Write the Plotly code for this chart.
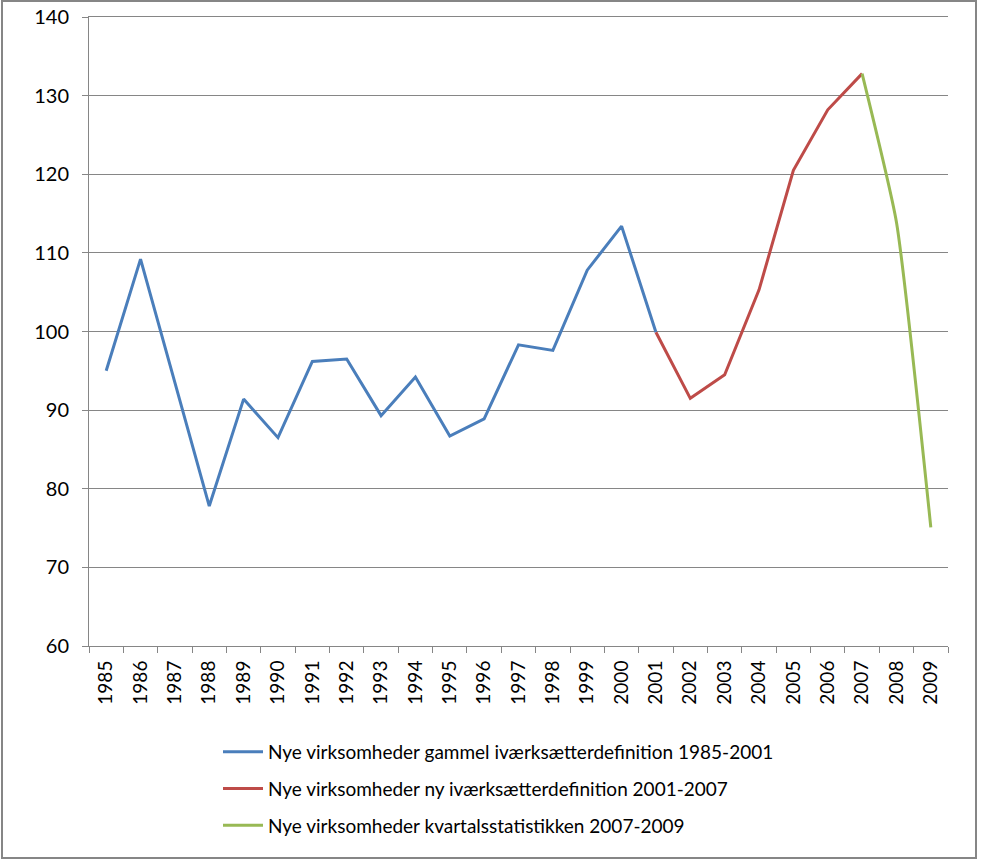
import plotly.graph_objects as go

years = [str(y) for y in range(1985, 2010)]

old_def_years = [str(y) for y in range(1985, 2002)]
old_def_values = [95.0, 109.2, 93.5, 77.8, 91.4, 86.5, 96.2, 96.5, 89.3, 94.2,
                  86.7, 88.9, 98.3, 97.6, 107.8, 113.4, 99.9]

new_def_years = [str(y) for y in range(2001, 2008)]
new_def_values = [99.9, 91.5, 94.5, 105.3, 120.5, 128.2, 132.8]

quarter_years = [str(y) for y in range(2007, 2010)]
quarter_values = [132.8, 113.9, 75.1]

names = [
    "Nye virksomheder gammel iværksætterdefinition 1985-2001",
    "Nye virksomheder ny iværksætterdefinition 2001-2007",
    "Nye virksomheder kvartalsstatistikken 2007-2009",
]
colors = ["#4A7EBB", "#BE4B48", "#98B954"]

y_ticks = [60, 70, 80, 90, 100, 110, 120, 130, 140]

W, H = 1005, 860
L, R, T, B = 89, 948, 17, 646

fig = go.Figure()
fig.add_trace(go.Scatter(x=old_def_years, y=old_def_values, mode="lines", name=names[0],
                         line=dict(color=colors[0], width=3), legendgroup="a"))
fig.add_trace(go.Scatter(x=new_def_years, y=new_def_values, mode="lines", name=names[1],
                         line=dict(color=colors[1], width=3), legendgroup="b"))
fig.add_trace(go.Scatter(x=quarter_years, y=quarter_values, mode="lines", name=names[2],
                         line=dict(color=colors[2], width=3, shape="spline", smoothing=0.5),
                         legendgroup="c"))

font_family = "Lato, Open Sans, sans-serif"

fig.update_layout(
    width=W, height=H,
    margin=dict(l=L, r=W - R, t=T, b=H - B, pad=0, autoexpand=False),
    paper_bgcolor="white", plot_bgcolor="white",
    font=dict(family=font_family, color="black"),
    xaxis=dict(type="category", categoryorder="array", categoryarray=years,
               tickvals=years, ticktext=years, automargin=False,
               tickangle=-90, tickfont=dict(size=19), ticklabelstandoff=6,
               showgrid=False, showline=True, linecolor="#868686", linewidth=1,
               mirror=True,
               ticks="outside", ticklen=6, tickcolor="#868686", tickson="boundaries",
               range=[-0.5, len(years) - 0.5], zeroline=False),
    yaxis=dict(range=[60, 140], tickvals=y_ticks, tickfont=dict(size=20),
               automargin=False, ticklabelstandoff=9,
               showgrid=True, gridcolor="#868686", gridwidth=1,
               showline=True, linecolor="#868686", linewidth=1,
               ticks="outside", ticklen=6, tickcolor="#868686", zeroline=False),
    legend=dict(orientation="v", xref="container", yref="container",
                x=218 / W, y=1 - 733 / H, xanchor="left", yanchor="top",
                font=dict(size=19), tracegroupgap=9, itemwidth=40,
                bgcolor="rgba(0,0,0,0)"),
    showlegend=True,
)

fig.add_shape(type="rect", xref="paper", yref="paper",
              x0=(2 - L) / (R - L), x1=(976 - L) / (R - L),
              y0=(B - 858) / (B - T), y1=(B - 1) / (B - T),
              line=dict(color="#868686", width=2), fillcolor="rgba(0,0,0,0)", layer="below")

fig.write_html("out.html", config={"displayModeBar": False},
               post_script="document.body.style.margin='0';document.body.style.padding='0';")
